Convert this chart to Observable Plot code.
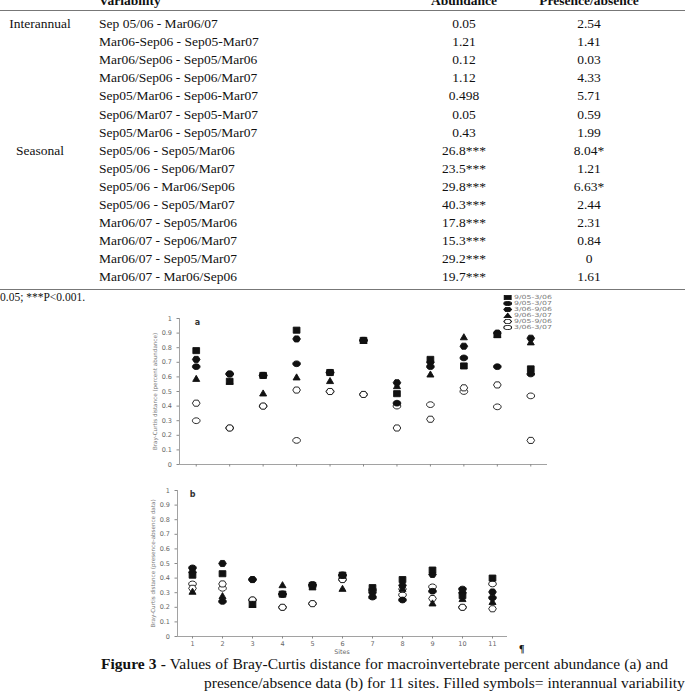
<!DOCTYPE html>
<html>
<head>
<meta charset="utf-8">
<script src="https://cdn.jsdelivr.net/npm/d3@7"></script>
<script src="https://cdn.jsdelivr.net/npm/@observablehq/plot@0.6"></script>
<style>
  html, body { margin: 0; padding: 0; background: #fff; }
  body { width: 685px; height: 694px; position: relative; overflow: hidden; font-family: "Liberation Serif", "Times New Roman", serif; color: #111; }
  .abs { position: absolute; }
  .cell { position: absolute; white-space: nowrap; font-size: 13.5px; line-height: 1; transform: translateY(-50%); }
  .c { transform: translate(-50%, -50%); }
  .rule { position: absolute; left: 0; width: 685px; height: 1px; background: #777; }
  .caption { position: absolute; font-size: 15.5px; line-height: 19px; text-align: justify; text-align-last: justify; white-space: nowrap; }
</style>
</head>
<body>
<div id="table"></div>
<div id="legend" class="abs"></div>
<div id="chartA" class="abs"></div>
<div id="chartB" class="abs"></div>
<div class="abs" style="left:519px;top:643px;font-size:10px;font-weight:bold;">¶</div>
<div class="caption" style="left:101px;top:654px;width:567px;"><b>Figure 3 -</b> Values of Bray-Curtis distance for macroinvertebrate percent abundance (a) and</div>
<div class="caption" style="left:204px;top:673px;width:464px;">presence/absence data (b) for 11 sites. Filled symbols= interannual variability</div>
<script>
// ---- Table of pairwise comparisons ----
const headers = ["Variability", "Abundance", "Presence/absence"];
const groups = ["Interannual", "Seasonal"];
const groupStart = [0, 7];
const comparisons = [
  "Sep 05/06 - Mar06/07", "Mar06-Sep06 - Sep05-Mar07", "Mar06/Sep06 - Sep05/Mar06",
  "Mar06/Sep06 - Sep06/Mar07", "Sep05/Mar06 - Sep06-Mar07", "Sep06/Mar07 - Sep05-Mar07",
  "Sep05/Mar06 - Sep05/Mar07", "Sep05/06 - Sep05/Mar06", "Sep05/06 - Sep06/Mar07",
  "Sep05/06 - Mar06/Sep06", "Sep05/06 - Sep05/Mar07", "Mar06/07 - Sep05/Mar06",
  "Mar06/07 - Sep06/Mar07", "Mar06/07 - Sep05/Mar07", "Mar06/07 - Mar06/Sep06"
];
const abundance = ["0.05", "1.21", "0.12", "1.12", "0.498", "0.05", "0.43",
  "26.8***", "23.5***", "29.8***", "40.3***", "17.8***", "15.3***", "29.2***", "19.7***"];
const presence = ["2.54", "1.41", "0.03", "4.33", "5.71", "0.59", "1.99",
  "8.04*", "1.21", "6.63*", "2.44", "2.31", "0.84", "0", "1.61"];
const footnote = "0.05; ***P<0.001.";

const table = document.getElementById("table");
const rowTop = 24, rowStep = 18.1, headerY = 1;
function cell(text, x, y, cls, extra) {
  const d = document.createElement("div");
  d.className = "cell " + (cls || "");
  d.textContent = text;
  d.style.left = x + "px";
  d.style.top = y + "px";
  if (extra) Object.assign(d.style, extra);
  table.appendChild(d);
}
cell(headers[0], 99, headerY, "", {fontWeight: "bold"});
cell(headers[1], 464, headerY, "c", {fontWeight: "bold"});
cell(headers[2], 589, headerY, "c", {fontWeight: "bold"});
groups.forEach((g, i) => cell(g, 40, rowTop + groupStart[i] * rowStep, "c"));
comparisons.forEach((c, i) => {
  const y = rowTop + i * rowStep;
  cell(c, 99, y);
  cell(abundance[i], 464, y, "c");
  cell(presence[i], 589, y, "c");
});
const r1 = document.createElement("div"); r1.className = "rule"; r1.style.top = "10px"; table.appendChild(r1);
const r2 = document.createElement("div"); r2.className = "rule"; r2.style.top = "289px"; table.appendChild(r2);
cell(footnote, 0, 298, "", {fontSize: "11.5px"});

// ---- Bray-Curtis distances by site ----
const sites = [1, 2, 3, 4, 5, 6, 7, 8, 9, 10, 11];
const periods = ["9/05-3/06", "9/05-3/07", "3/06-9/06", "9/06-3/07", "9/05-9/06", "3/06-3/07"];
const filled = [true, true, true, true, false, false];

// percent abundance (a), one array per period, indexed by site
const abund_0905_0306 = [0.78, 0.57, 0.61, 0.92, 0.63, 0.85, 0.485, 0.72, 0.675, 0.89, 0.655];
const abund_0905_0307 = [0.67, 0.62, 0.61, 0.69, 0.63, 0.85, 0.42, 0.67, 0.73, 0.67, 0.62];
const abund_0306_0906 = [0.72, 0.62, 0.61, 0.86, 0.63, 0.85, 0.56, 0.70, 0.81, 0.90, 0.865];
const abund_0906_0307 = [0.59, 0.57, 0.49, 0.60, 0.575, 0.85, 0.54, 0.62, 0.875, 0.89, 0.84];
const abund_0905_0906 = [0.42, 0.25, 0.40, 0.51, 0.50, 0.48, 0.25, 0.31, 0.525, 0.545, 0.165];
const abund_0306_0307 = [0.30, 0.25, 0.40, 0.165, 0.50, 0.48, 0.40, 0.41, 0.50, 0.395, 0.47];

// presence/absence (b)
const pa_0905_0306 = [0.42, 0.43, 0.22, 0.29, 0.35, 0.42, 0.335, 0.39, 0.455, 0.28, 0.40];
const pa_0905_0307 = [0.47, 0.24, 0.39, 0.29, 0.35, 0.42, 0.27, 0.25, 0.31, 0.325, 0.265];
const pa_0306_0906 = [0.44, 0.50, 0.39, 0.29, 0.355, 0.42, 0.30, 0.35, 0.425, 0.30, 0.305];
const pa_0906_0307 = [0.31, 0.28, 0.22, 0.355, 0.34, 0.33, 0.28, 0.33, 0.23, 0.26, 0.24];
const pa_0905_0906 = [0.33, 0.36, 0.25, 0.20, 0.225, 0.39, 0.31, 0.325, 0.26, 0.20, 0.19];
const pa_0306_0307 = [0.36, 0.33, 0.25, 0.20, 0.225, 0.39, 0.32, 0.285, 0.34, 0.20, 0.36];

const abundSeries = [abund_0905_0306, abund_0905_0307, abund_0306_0906, abund_0906_0307, abund_0905_0906, abund_0306_0307];
const paSeries = [pa_0905_0306, pa_0905_0307, pa_0306_0906, pa_0906_0307, pa_0905_0906, pa_0306_0307];

// marker shapes: square, ellipse, hexagon, triangle, hexagon, ellipse
const sq = {draw(ctx, size) { const r = Math.sqrt(size / Math.PI); const w = r * 1.05, h = r * 0.95;
  ctx.moveTo(-w, -h); ctx.lineTo(w, -h); ctx.lineTo(w, h); ctx.lineTo(-w, h); ctx.closePath(); }};
const ell = {draw(ctx, size) { const r = Math.sqrt(size / Math.PI); const rx = r * 1.2, ry = r * 0.9, k = 0.5523;
  ctx.moveTo(rx, 0);
  ctx.bezierCurveTo(rx, ry * k, rx * k, ry, 0, ry);
  ctx.bezierCurveTo(-rx * k, ry, -rx, ry * k, -rx, 0);
  ctx.bezierCurveTo(-rx, -ry * k, -rx * k, -ry, 0, -ry);
  ctx.bezierCurveTo(rx * k, -ry, rx, -ry * k, rx, 0); ctx.closePath(); }};
const hex = {draw(ctx, size) { const r = Math.sqrt(size / Math.PI); const rx = r * 1.2, ry = r * 0.95;
  ctx.moveTo(-rx, 0); ctx.lineTo(-rx * 0.5, -ry); ctx.lineTo(rx * 0.5, -ry); ctx.lineTo(rx, 0);
  ctx.lineTo(rx * 0.5, ry); ctx.lineTo(-rx * 0.5, ry); ctx.closePath(); }};
const tri = {draw(ctx, size) { const r = Math.sqrt(size / Math.PI); const w = r * 1.1, h = r * 0.95;
  ctx.moveTo(0, -h); ctx.lineTo(w, h); ctx.lineTo(-w, h); ctx.closePath(); }};
const shapes = [sq, ell, hex, tri, hex, ell];

function rows(series) {
  const out = [];
  series.forEach((vals, p) => vals.forEach((v, i) => out.push({site: sites[i], value: v, period: periods[p], p})));
  // open symbols first, filled on top
  return out.sort((a, b) => (filled[a.p] - filled[b.p]) || (b.p - a.p));
}

const grey = "#8a8a8a";
const tickFont = "DejaVu Sans, Liberation Sans, sans-serif";

function distancePlot({series, xRange, yTop, yBottom, top, height, title, letter, letterDx, showLabels}) {
  const data = rows(series);
  return Plot.plot({
    width: 685, height,
    marginLeft: xRange[0], marginRight: 685 - xRange[1],
    marginTop: yTop - top, marginBottom: top + height - yBottom,
    style: {fontFamily: tickFont, fontSize: "6.5px", color: "#555", overflow: "visible"},
    x: {domain: [0.5, 11.5], axis: null},
    y: {domain: [0, 1], axis: null},
    symbol: {domain: periods, range: shapes},
    marks: [
      Plot.ruleX([0.5], {y1: 0, y2: 1, stroke: grey, strokeWidth: 0.8}),
      Plot.ruleY([0], {x1: 0.5, x2: 11.5, stroke: grey, strokeWidth: 0.8}),
      Plot.axisY({ticks: d3.range(0, 1.01, 0.1), tickSize: 2.5, tickPadding: 5, stroke: grey, fill: "#666",
        tickFormat: d => String(+d.toFixed(1)), label: null}),
      Plot.axisX({ticks: sites, tickSize: 2.5, tickPadding: 2, stroke: grey, fill: "#666",
        tickFormat: showLabels ? d => String(d) : () => "", label: null}),
      Plot.text([title], {frameAnchor: "left", textAnchor: "middle", dx: -24, rotate: -90, fill: "#777", fontSize: 5.6}),
      Plot.text([letter], {frameAnchor: "top-left", textAnchor: "middle", dx: letterDx, dy: 1, fill: "#333", fontSize: 8, fontWeight: "bold"}),
      Plot.dot(data, {x: "site", y: "value", symbol: "period", r: 3.2,
        fill: d => filled[d.p] ? "#111" : "#fff", stroke: "#111", strokeWidth: 0.9})
    ]
  });
}

const chartA = document.getElementById("chartA");
chartA.style.left = "0px"; chartA.style.top = "300px";
chartA.appendChild(distancePlot({series: abundSeries, xRange: [179, 547], yTop: 318, yBottom: 464,
  top: 300, height: 176, title: "Bray-Curtis distance (percent abundance)", letter: "a", letterDx: 18, showLabels: false}));

const chartB = document.getElementById("chartB");
chartB.style.left = "0px"; chartB.style.top = "480px";
chartB.appendChild(distancePlot({series: paSeries, xRange: [177, 507], yTop: 490, yBottom: 636,
  top: 480, height: 166, title: "Bray-Curtis distance (presence-absence data)", letter: "b", letterDx: 15, showLabels: true}));

// "Sites" axis title under chart b
const sitesLabel = document.createElement("div");
sitesLabel.className = "abs";
Object.assign(sitesLabel.style, {left: "342px", top: "649px", transform: "translateX(-50%)", fontFamily: tickFont, fontSize: "6.3px", lineHeight: "1", color: "#666"});
sitesLabel.textContent = "Sites";
document.body.appendChild(sitesLabel);

// legend of sampling-period pairs (drawn narrow, then widened like the panel art)
const legend = Plot.plot({
  width: 46, height: 43, margin: 0, marginTop: 3, marginBottom: 3,
  style: {fontFamily: tickFont, fontSize: "5.6px", color: "#666", overflow: "visible"},
  x: {domain: [0, 46], range: [0, 46], axis: null},
  y: {domain: periods, type: "point", axis: null},
  symbol: {domain: periods, range: shapes},
  marks: [
    Plot.dot(periods, {x: 5, y: d => d, symbol: d => d, r: 2.3,
      fill: (d, i) => filled[i] ? "#111" : "#fff", stroke: "#111", strokeWidth: 0.8}),
    Plot.text(periods, {x: 9.5, y: d => d, text: d => d, textAnchor: "start", fill: "#777"})
  ]
});
const legendBox = document.getElementById("legend");
Object.assign(legendBox.style, {left: "500px", top: "290px", transform: "scaleX(1.4)", transformOrigin: "0 0"});
legendBox.appendChild(legend);
</script>
</body>
</html>
